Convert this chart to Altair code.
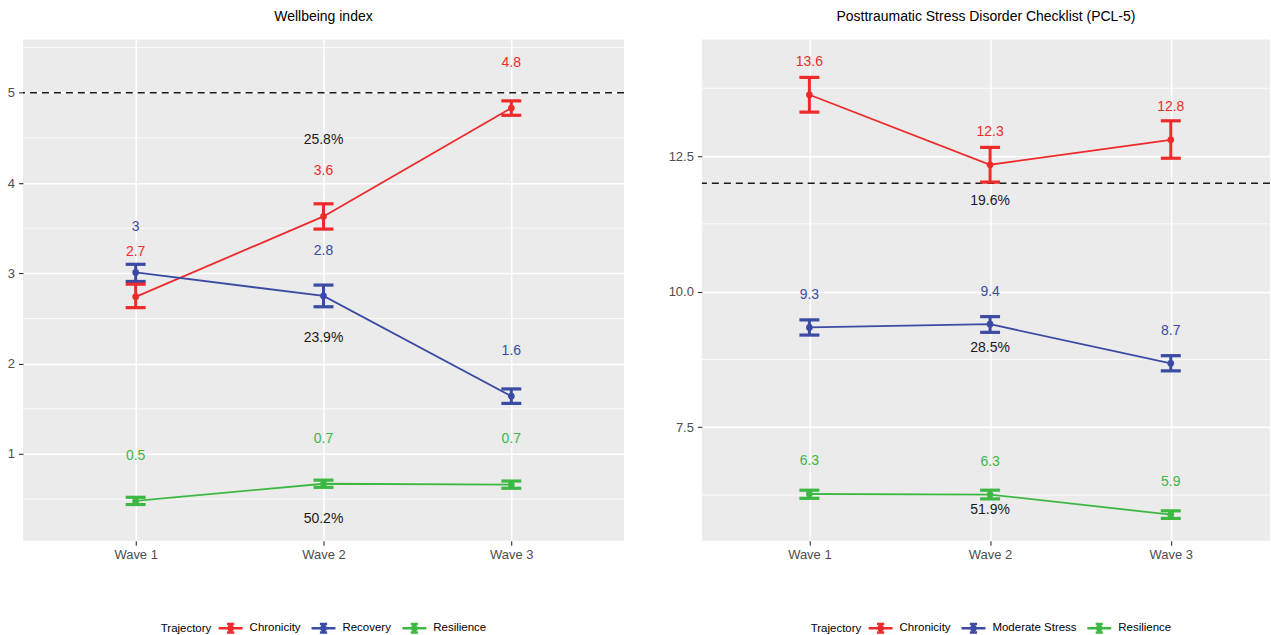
import altair as alt
import pandas as pd

waves = ["Wave 1", "Wave 2", "Wave 3"]

# ---- Wellbeing index -------------------------------------------------------
wb_groups = ["Chronicity", "Recovery", "Resilience"]
wb_mean = {
    "Chronicity": [2.74, 3.63, 4.83],
    "Recovery": [3.01, 2.75, 1.64],
    "Resilience": [0.48, 0.67, 0.66],
}
wb_lo = {
    "Chronicity": [2.62, 3.49, 4.75],
    "Recovery": [2.91, 2.63, 1.56],
    "Resilience": [0.44, 0.63, 0.62],
}
wb_hi = {
    "Chronicity": [2.88, 3.77, 4.91],
    "Recovery": [3.10, 2.87, 1.72],
    "Resilience": [0.52, 0.71, 0.70],
}
wb_share = ["25.8%", "23.9%", "50.2%"]
wb_share_pos = [4.48, 2.28, 0.28]
wb_cutoff = 5
wb_ticks = [1, 2, 3, 4, 5]
wb_minor = [0.5, 1.5, 2.5, 3.5, 4.5, 5.5]

# ---- PCL-5 ------------------------------------------------------------------
pcl_groups = ["Chronicity", "Moderate Stress", "Resilience"]
pcl_mean = {
    "Chronicity": [13.63, 12.34, 12.80],
    "Moderate Stress": [9.34, 9.40, 8.68],
    "Resilience": [6.27, 6.26, 5.89],
}
pcl_lo = {
    "Chronicity": [13.31, 12.02, 12.46],
    "Moderate Stress": [9.20, 9.25, 8.54],
    "Resilience": [6.19, 6.18, 5.82],
}
pcl_hi = {
    "Chronicity": [13.95, 12.66, 13.15],
    "Moderate Stress": [9.48, 9.54, 8.82],
    "Resilience": [6.34, 6.34, 5.96],
}
pcl_share = ["19.6%", "28.5%", "51.9%"]
pcl_share_pos = [11.67, 8.96, 5.98]
pcl_cutoff = 12
pcl_ticks = [7.5, 10.0, 12.5]
pcl_minor = [6.25, 8.75, 11.25, 13.75]

colors = ["#EE2A2B", "#3B4BA4", "#3DB843"]
font = "Liberation Sans"
key_path = (
    "M-2,0H2M-0.6,-0.7H0.6M-0.6,0.7H0.6M0,-0.7V0.7"
    "M0.35,0A0.35,0.35,0,1,1,-0.35,0A0.35,0.35,0,1,1,0.35,0"
)


def build_frame(groups, mean, lo, hi, offset):
    rows = []
    for g in groups:
        for i, w in enumerate(waves):
            rows.append({
                "group": g, "wave": w,
                "mean": mean[g][i], "lo": lo[g][i], "hi": hi[g][i],
                "label": f"{round(mean[g][i], 1):g}",
                "label_y": mean[g][i] + offset,
            })
    return pd.DataFrame(rows)


def panel(title, groups, mean, lo, hi, offset, share, share_pos, cutoff,
          ticks, minor, domain, fmt, extent, width, xpad, xalign, legend_x):
    df = build_frame(groups, mean, lo, hi, offset)
    share_df = pd.DataFrame({"wave": ["Wave 2"] * len(share),
                             "pos": share_pos, "text": share})
    minor_df = pd.DataFrame({"value": minor})
    cut_df = pd.DataFrame({"value": [cutoff]})

    yscale = alt.Scale(domain=domain, nice=False, zero=False)
    yaxis = alt.Axis(values=ticks, format=fmt, title=None, grid=True,
                     gridColor="white", gridWidth=1.5, domain=False,
                     tickColor="#333333", tickSize=4.5, tickWidth=1.1,
                     labelColor="#4D4D4D", labelFontSize=13, labelFont=font,
                     labelPadding=4, minExtent=extent, maxExtent=extent)

    def y(field):
        return alt.Y(f"{field}:Q", scale=yscale, axis=yaxis)

    x = alt.X("wave:N", sort=waves,
              scale=alt.Scale(type="point", padding=xpad, align=xalign),
              axis=alt.Axis(title=None, labelAngle=0, grid=True,
                            gridColor="white", gridWidth=1.5, domain=False,
                            tickColor="#333333", tickSize=4.5, tickWidth=1.1,
                            labelColor="#4D4D4D", labelFontSize=13,
                            labelFont=font, labelPadding=3))

    cscale = alt.Scale(domain=groups, range=colors)
    legend = alt.Legend(
        orient="none", legendX=legend_x, legendY=582, direction="horizontal",
        title="Trajectory", titleOrient="left", titleFont=font,
        titleFontSize=11.5, titleFontWeight="normal", titleColor="black",
        titlePadding=11.5, labelFont=font, labelFontSize=11.5,
        labelColor="black", labelOffset=11.5, columnPadding=5,
        symbolType=key_path, symbolSize=144, symbolStrokeWidth=2.4,
        padding=0,
    )
    color_leg = alt.Color("group:N", scale=cscale, legend=legend)
    color = alt.Color("group:N", scale=cscale, legend=None)

    minor_grid = alt.Chart(minor_df).mark_rule(
        color="white", strokeWidth=0.8).encode(y=y("value"))
    cut = alt.Chart(cut_df).mark_rule(
        color="#1a1a1a", strokeWidth=1.4, strokeDash=[7, 5]).encode(y=y("value"))

    base = alt.Chart(df)
    line = base.mark_line(strokeWidth=1.8).encode(x=x, y=y("mean"), color=color_leg)
    bars = base.mark_rule(strokeWidth=3).encode(
        x=x, y=y("lo"), y2="hi:Q", color=color)
    cap_lo = base.mark_tick(thickness=3.2, size=20, opacity=1).encode(
        x=x, y=y("lo"), color=color)
    cap_hi = base.mark_tick(thickness=3.2, size=20, opacity=1).encode(
        x=x, y=y("hi"), color=color)
    pts = base.mark_point(filled=True, size=45, opacity=1).encode(
        x=x, y=y("mean"), color=color)
    labels = base.mark_text(font=font, fontSize=14, baseline="middle").encode(
        x=x, y=y("label_y"), text="label:N", color=color)
    shares = alt.Chart(share_df).mark_text(
        font=font, fontSize=14, baseline="middle", color="#1a1a1a").encode(
        x=x, y=y("pos"), text="text:N")

    return alt.layer(minor_grid, cut, line, bars, cap_lo, cap_hi, pts,
                     labels, shares).properties(
        width=width, height=502,
        title=alt.TitleParams(title, font=font, fontSize=14,
                              fontWeight="normal", color="black",
                              anchor="middle", frame="group", offset=15),
    )


left = panel("Wellbeing index", wb_groups, wb_mean, wb_lo, wb_hi, 0.5,
             wb_share, wb_share_pos, wb_cutoff, wb_ticks, wb_minor,
             [0.04, 5.59], "d", 18, 602, 0.6, 0.5, 138)
right = panel("Posttraumatic Stress Disorder Checklist (PCL-5)", pcl_groups,
              pcl_mean, pcl_lo, pcl_hi, 0.6, pcl_share, pcl_share_pos,
              pcl_cutoff, pcl_ticks, pcl_minor, [5.41, 14.65], ".1f", 40,
              569, 0.572, 0.52, 109)

chart = alt.hconcat(left, right, spacing=37).resolve_scale(
    color="independent", x="independent", y="independent"
).properties(
    padding={"left": 5, "top": 10, "right": 0, "bottom": 0}
).configure(background="white").configure_view(fill="#EBEBEB", stroke=None)

chart.save("out.html", embed_options={"renderer": "svg", "actions": False})
